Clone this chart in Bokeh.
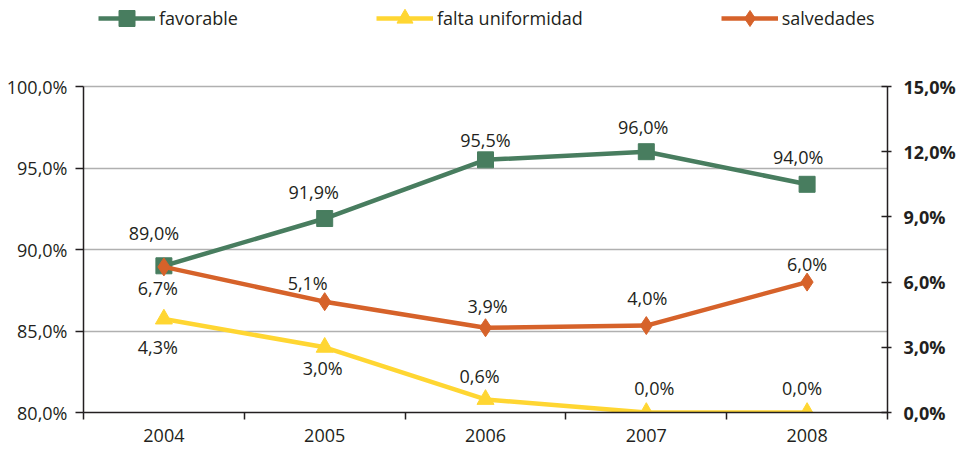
from bokeh.plotting import figure
from bokeh.models import (Range1d, LinearAxis, FixedTicker, CustomJSTickFormatter,
                          LabelSet, ColumnDataSource, Legend, LegendItem)
from bokeh.core.properties import value
from bokeh.embed import file_html
from bokeh.resources import INLINE

# ---- data ----
years = ["2004", "2005", "2006", "2007", "2008"]
favorable = [89.0, 91.9, 95.5, 96.0, 94.0]
falta_uniformidad = [4.3, 3.0, 0.6, 0.0, 0.0]
salvedades = [6.7, 5.1, 3.9, 4.0, 6.0]
left_ticks = [80, 85, 90, 95, 100]
right_ticks = [0, 3, 6, 9, 12, 15]
series_names = ["favorable", "falta uniformidad", "salvedades"]

# ---- label offsets in pixels (style) ----
fav_dx = [-10, -11, 0, -3, -9]
fav_dy = [33, 27, 20, 25, 27]
fal_dx = [-6, -2, -6, 8, -5]
fal_dy = [-28, -21, 23, 25, 25]
sal_dx = [-6, -17, 2, 1, 0]
sal_dy = [-21, 19, 22, 28, 18]

GREEN = "#487d5f"
YELLOW = "#ffd632"
ORANGE = "#d6622a"
TXT = "#231f20"
FONT = "Open Sans"

W, H = 958, 445
BL, BR, BB = 83, 67, 33      # borders (px)
AXIS_H = 326                 # drawn height of the value axes (px)
FRAME_H = H - BB             # frame extends to the top to host the legend

xs = [i + 0.5 for i in range(len(years))]
bounds = list(range(len(years) + 1))

l0, l1 = left_ticks[0], left_ticks[-1]
r0, r1 = right_ticks[0], right_ticks[-1]
left_end = l0 + (l1 - l0) * FRAME_H / AXIS_H
right_end = r0 + (r1 - r0) * FRAME_H / AXIS_H


def fmt(v):
    return ("%.1f" % v).replace(".", ",") + "%"


p = figure(width=W, height=H, output_backend="svg", toolbar_location=None,
           x_range=Range1d(0, len(years)), y_range=Range1d(l0, left_end),
           min_border_left=BL, min_border_right=BR, min_border_top=0, min_border_bottom=BB)
p.extra_y_ranges = {"right": Range1d(r0, right_end)}
p.outline_line_color = None
p.background_fill_color = "white"
p.border_fill_color = "white"

# grid
p.xgrid.visible = False
p.ygrid.ticker = FixedTicker(ticks=left_ticks)
p.ygrid.grid_line_color = "#b0b0b0"
p.ygrid.grid_line_width = 1.5

# x axis
xa = p.xaxis[0]
xa.ticker = FixedTicker(ticks=xs, minor_ticks=bounds)
xa.major_label_overrides = {x: y for x, y in zip(xs, years)}
xa.major_tick_out = 0
xa.major_tick_in = 0
xa.minor_tick_out = 7
xa.minor_tick_in = 0
xa.minor_tick_line_color = TXT
xa.minor_tick_line_width = 1.5
xa.axis_line_color = TXT
xa.axis_line_width = 1.5
xa.major_label_standoff = 9
xa.major_label_text_font = FONT
xa.major_label_text_font_size = "18px"
xa.major_label_text_color = TXT

# left axis
ya = p.yaxis[0]
ya.bounds = (l0, l1)
ya.ticker = FixedTicker(ticks=left_ticks)
ya.formatter = CustomJSTickFormatter(code="return tick.toFixed(1).replace('.', ',') + '%';")
ya.major_tick_out = 8
ya.major_tick_in = 0
ya.minor_tick_line_color = None
ya.axis_line_color = TXT
ya.axis_line_width = 1.5
ya.major_tick_line_color = TXT
ya.major_tick_line_width = 1.5
ya.major_label_standoff = 8
ya.major_label_text_font = FONT
ya.major_label_text_font_size = "18px"
ya.major_label_text_color = TXT

# right axis
ra = LinearAxis(y_range_name="right", ticker=FixedTicker(ticks=right_ticks), bounds=(r0, r1),
                formatter=CustomJSTickFormatter(code="return tick.toFixed(1).replace('.', ',') + '%';"))
ra.major_tick_out = 4
ra.major_tick_in = 6
ra.minor_tick_line_color = None
ra.axis_line_color = TXT
ra.axis_line_width = 1.5
ra.major_tick_line_color = TXT
ra.major_tick_line_width = 1.5
ra.major_label_standoff = 12
ra.major_label_text_font = FONT
ra.major_label_text_font_size = "18px"
ra.major_label_text_font_style = "bold"
ra.major_label_text_color = TXT
p.add_layout(ra, "right")

LW = 4.5
src_f = ColumnDataSource(dict(x=xs, y=favorable, t=[fmt(v) for v in favorable], dx=fav_dx, dy=fav_dy))
src_u = ColumnDataSource(dict(x=xs, y=falta_uniformidad, t=[fmt(v) for v in falta_uniformidad], dx=fal_dx, dy=fal_dy))
src_s = ColumnDataSource(dict(x=xs, y=salvedades, t=[fmt(v) for v in salvedades], dx=sal_dx, dy=sal_dy))

lf = p.line("x", "y", source=src_f, line_color=GREEN, line_width=LW)
mf = p.scatter("x", "y", source=src_f, marker="square", size=16, fill_color=GREEN, line_color=GREEN)
lu = p.line("x", "y", source=src_u, y_range_name="right", line_color=YELLOW, line_width=LW)
mu = p.scatter("x", "y", source=src_u, y_range_name="right", marker="triangle", size=17,
               fill_color=YELLOW, line_color=YELLOW)
ls = p.line("x", "y", source=src_s, y_range_name="right", line_color=ORANGE, line_width=LW)
ms = p.scatter("x", "y", source=src_s, y_range_name="right", marker="diamond", size=18,
               fill_color=ORANGE, line_color=ORANGE)

for src, rng in ((src_f, "default"), (src_u, "right"), (src_s, "right")):
    p.add_layout(LabelSet(x="x", y="y", text="t", source=src, y_range_name=rng,
                          x_offset="dx", y_offset="dy", text_align="center", text_baseline="middle",
                          text_font=value(FONT), text_font_size=value("18px"), text_color=TXT))

legend = Legend(items=[LegendItem(label=series_names[0], renderers=[lf, mf]),
                       LegendItem(label=series_names[1], renderers=[lu, mu]),
                       LegendItem(label=series_names[2], renderers=[ls, ms])],
                location=(15, FRAME_H - 38), orientation="horizontal", spacing=138,
                glyph_width=57, glyph_height=40, label_standoff=4, padding=0, margin=0,
                border_line_color=None, background_fill_alpha=0,
                label_text_font=FONT, label_text_font_size="18px", label_text_color=TXT)
p.add_layout(legend)

open("out.html", "w").write(file_html(p, INLINE))
